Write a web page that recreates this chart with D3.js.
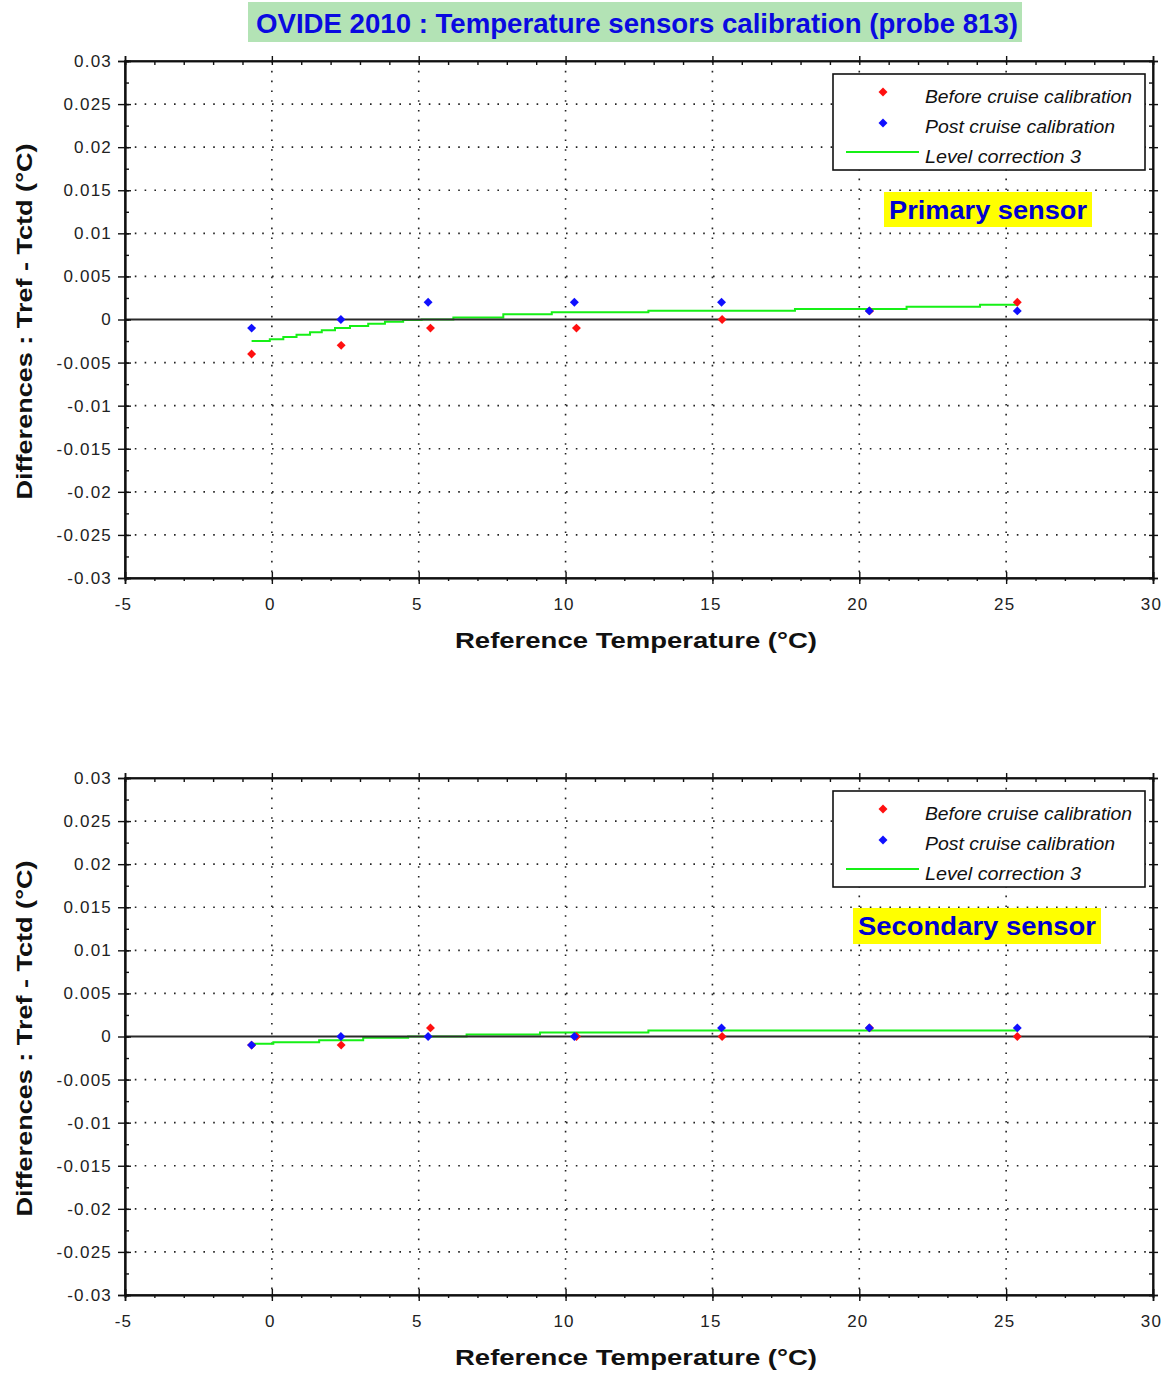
<!DOCTYPE html>
<html>
<head>
<meta charset="utf-8">
<title>OVIDE 2010 : Temperature sensors calibration (probe 813)</title>
<script src="https://cdn.jsdelivr.net/npm/d3@7"></script>
<style>
  html, body { margin: 0; padding: 0; background: #ffffff; }
  svg { display: block; }
  .tick text { font-family: "Liberation Sans", Arial, sans-serif; font-size: 17px; fill: #222; letter-spacing: 1.2px; }
</style>
</head>
<body>
<svg id="chart" width="1173" height="1378"></svg>
<script>
// ---- data ----
const chartTitle = "OVIDE 2010 : Temperature sensors calibration (probe 813)";
const sensorNames = ["Primary sensor", "Secondary sensor"];
const legendLabels = ["Before cruise calibration", "Post cruise calibration", "Level correction 3"];

// reference bath temperatures (°C) for each calibration run
const tempBefore = [-0.69, 2.36, 5.40, 10.37, 15.33, 20.35, 25.38];
const tempPost   = [-0.69, 2.35, 5.32, 10.30, 15.31, 20.34, 25.38];

// Tref - Tctd differences (°C)
const primaryBefore   = [-0.004, -0.003, -0.001, -0.001, 0.000, 0.001, 0.002];
const primaryPost     = [-0.001,  0.000,  0.002,  0.002, 0.002, 0.001, 0.001];
const secondaryBefore = [-0.001, -0.001,  0.001,  0.000, 0.000, 0.001, 0.000];
const secondaryPost   = [-0.001,  0.000,  0.000,  0.000, 0.001, 0.001, 0.001];

// level correction curves, sampled as steps
const corrTempPrimary = [-0.69, -0.07, 0.39, 0.84, 1.30, 1.70, 2.15, 2.66, 3.28, 3.85, 4.47, 5.10, 6.18, 7.88, 9.53, 12.82, 17.81, 21.61, 24.11, 25.41];
const corrPrimary     = [-0.0025, -0.0023, -0.00203, -0.00176, -0.00149, -0.00125, -0.001, -0.00075, -0.0005, -0.00026, -0.00005, 0, 0.00022, 0.0006, 0.00084, 0.00102, 0.00122, 0.00149, 0.00172, 0.00172];
const corrTempSecondary = [-0.69, 0.05, 1.61, 3.11, 4.64, 6.63, 9.13, 12.82, 25.41];
const corrSecondary     = [-0.00085, -0.00066, -0.00043, -0.00015, 0, 0.00023, 0.00046, 0.0007, 0.0007];

// axis ticks
const xTicks = [-5, 0, 5, 10, 15, 20, 25, 30];
const xTickLabels = ["-5", "0", "5", "10", "15", "20", "25", "30"];
const xMinorTicks = d3.range(-5, 30.5, 1);
const yTicks = [-0.03, -0.025, -0.02, -0.015, -0.01, -0.005, 0, 0.005, 0.01, 0.015, 0.02, 0.025, 0.03];
const yTickLabels = ["-0.03", "-0.025", "-0.02", "-0.015", "-0.01", "-0.005", "0", "0.005", "0.01", "0.015", "0.02", "0.025", "0.03"];
const yMinorTicks = d3.range(-0.03, 0.03001, 0.0025);

// ---- drawing ----
const svg = d3.select("#chart");
const font = '"Liberation Sans", Arial, sans-serif';

// title banner
svg.append("rect").attr("x", 248).attr("y", 2).attr("width", 774).attr("height", 40).attr("fill", "#b3e3b5");
svg.append("text").attr("x", 256).attr("y", 33)
  .attr("font-family", '"Liberation Sans Narrow", "Liberation Sans", Arial, sans-serif')
  .attr("font-size", 28).attr("font-weight", "bold").attr("fill", "#0a0ae0")
  .attr("textLength", 762).attr("lengthAdjust", "spacingAndGlyphs")
  .text(chartTitle);

const plotLeft = 125, plotRight = 1153, plotH = 517;
const x = d3.scaleLinear().domain([-5, 30]).range([plotLeft, plotRight]);

function drawPanel(top, before, post, corrT, corrV, name, nameBox) {
  const y = d3.scaleLinear().domain([-0.03, 0.03]).range([top + plotH, top]);
  const g = svg.append("g");

  // dotted grid
  g.append("g").selectAll("line").data(xTicks.slice(1, -1)).join("line")
    .attr("x1", d => x(d)).attr("x2", d => x(d)).attr("y1", top).attr("y2", top + plotH)
    .attr("stroke", "#222").attr("stroke-width", 1.6).attr("stroke-dasharray", "1.6,8.2");
  g.append("g").selectAll("line").data(yTicks.slice(1, -1).filter(d => d !== 0)).join("line")
    .attr("x1", plotLeft).attr("x2", plotRight).attr("y1", d => y(d)).attr("y2", d => y(d))
    .attr("stroke", "#222").attr("stroke-width", 1.6).attr("stroke-dasharray", "1.6,8.2");

  // level correction
  const line = d3.line().x(d => x(d[0])).y(d => y(d[1])).curve(d3.curveStepAfter);
  g.append("path").datum(d3.zip(corrT, corrV)).attr("d", line)
    .attr("fill", "none").attr("stroke", "#16f016").attr("stroke-width", 2);

  // zero line
  g.append("line").attr("x1", plotLeft).attr("x2", plotRight).attr("y1", y(0)).attr("y2", y(0))
    .attr("stroke", "#2a2a2a").attr("stroke-width", 2);

  // axes: labelled left / bottom, ticks crossing; mirrored ticks on top / right
  const bottom = top + plotH;
  g.append("g").attr("transform", `translate(${plotLeft},0)`)
    .call(d3.axisLeft(y).tickValues(yTicks).tickSize(7).tickPadding(6)
      .tickFormat((d, i) => yTickLabels[i]));
  g.append("g").attr("transform", `translate(${plotLeft},0)`)
    .call(d3.axisRight(y).tickValues(yTicks).tickSize(6).tickFormat(""));
  g.append("g").attr("transform", `translate(${plotLeft},0)`)
    .call(d3.axisRight(y).tickValues(yMinorTicks).tickSize(4).tickFormat(""));
  g.append("g").attr("transform", `translate(${plotRight},0)`)
    .call(d3.axisLeft(y).tickValues(yMinorTicks).tickSize(4).tickFormat(""));
  g.append("g").attr("transform", `translate(${plotRight},0)`)
    .call(d3.axisRight(y).tickValues(yTicks).tickSize(5).tickFormat(""));

  const axB = g.append("g").attr("transform", `translate(0,${bottom})`)
    .call(d3.axisBottom(x).tickValues(xTicks).tickSize(6).tickPadding(14)
      .tickFormat((d, i) => xTickLabels[i]));
  g.append("g").attr("transform", `translate(0,${bottom})`)
    .call(d3.axisTop(x).tickValues(xTicks).tickSize(6).tickFormat(""));
  g.append("g").attr("transform", `translate(0,${bottom})`)
    .call(d3.axisBottom(x).tickValues(xMinorTicks).tickSize(3).tickFormat(""));
  g.append("g").attr("transform", `translate(0,${top})`)
    .call(d3.axisBottom(x).tickValues(xMinorTicks).tickSize(4).tickFormat(""));
  g.append("g").attr("transform", `translate(0,${top})`)
    .call(d3.axisTop(x).tickValues(xTicks).tickSize(5).tickFormat(""));
  axB.selectAll(".tick text").attr("dx", "-2");

  g.selectAll(".domain").attr("stroke", "#111").attr("stroke-width", 1.6);
  g.selectAll(".tick line").attr("stroke", "#111").attr("stroke-width", 1.4);
  // plot frame
  g.append("rect").attr("x", plotLeft).attr("y", top).attr("width", plotRight - plotLeft).attr("height", plotH)
    .attr("fill", "none").attr("stroke", "#111").attr("stroke-width", 1.6);

  // markers
  const marker = d3.symbol().type(d3.symbolSquare).size(40);
  g.append("g").selectAll("path").data(d3.zip(tempBefore, before)).join("path")
    .attr("d", marker).attr("fill", "#ff1010")
    .attr("transform", d => `translate(${x(d[0])},${y(d[1])}) rotate(45)`);
  g.append("g").selectAll("path").data(d3.zip(tempPost, post)).join("path")
    .attr("d", marker).attr("fill", "#1010ff")
    .attr("transform", d => `translate(${x(d[0])},${y(d[1])}) rotate(45)`);

  // legend
  const lg = g.append("g").attr("transform", `translate(833,${top + 13})`);
  lg.append("rect").attr("width", 312).attr("height", 96).attr("fill", "#fff")
    .attr("stroke", "#111").attr("stroke-width", 1.6);
  lg.append("path").attr("d", marker).attr("fill", "#ff1010").attr("transform", "translate(50,18) rotate(45)");
  lg.append("path").attr("d", marker).attr("fill", "#1010ff").attr("transform", "translate(50,49) rotate(45)");
  lg.append("line").attr("x1", 13).attr("x2", 86).attr("y1", 78).attr("y2", 78)
    .attr("stroke", "#16f016").attr("stroke-width", 2);
  const lw = [207, 190, 156];
  const ly = [29, 59, 89];
  legendLabels.forEach((t, i) => {
    lg.append("text").attr("x", 92).attr("y", ly[i])
      .attr("font-family", font).attr("font-style", "italic").attr("font-size", 18)
      .attr("fill", "#111").attr("textLength", lw[i]).attr("lengthAdjust", "spacingAndGlyphs")
      .text(t);
  });

  // sensor name tag
  g.append("rect").attr("x", nameBox[0]).attr("y", top + nameBox[1]).attr("width", nameBox[2]).attr("height", nameBox[3])
    .attr("fill", "#ffff00");
  g.append("text").attr("x", nameBox[0] + nameBox[2] / 2).attr("y", top + nameBox[1] + 27)
    .attr("text-anchor", "middle").attr("font-family", font).attr("font-weight", "bold")
    .attr("font-size", 25).attr("fill", "#0000d0")
    .attr("textLength", nameBox[2] - 10).attr("lengthAdjust", "spacingAndGlyphs")
    .text(name);

  // axis titles
  g.append("text").attr("x", 636).attr("y", bottom + 70).attr("text-anchor", "middle")
    .attr("font-family", font).attr("font-weight", "bold").attr("font-size", 22).attr("fill", "#111")
    .attr("textLength", 362).attr("lengthAdjust", "spacingAndGlyphs")
    .text("Reference Temperature (°C)");
  g.append("text").attr("transform", `translate(32,${top + plotH / 2 + 2}) rotate(-90)`)
    .attr("text-anchor", "middle")
    .attr("font-family", font).attr("font-weight", "bold").attr("font-size", 22).attr("fill", "#111")
    .attr("textLength", 356).attr("lengthAdjust", "spacingAndGlyphs")
    .text("Differences : Tref - Tctd (°C)");
}

drawPanel(61, primaryBefore, primaryPost, corrTempPrimary, corrPrimary, sensorNames[0], [884, 131, 208, 35]);
drawPanel(778, secondaryBefore, secondaryPost, corrTempSecondary, corrSecondary, sensorNames[1], [853, 130, 248, 36]);
</script>
</body>
</html>
